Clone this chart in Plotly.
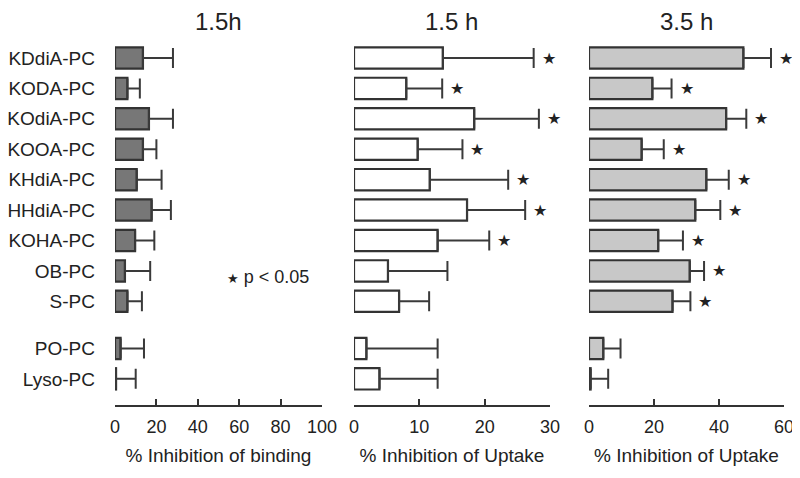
import plotly.graph_objects as go

# ---- data ----
labels = ["KDdiA-PC", "KODA-PC", "KOdiA-PC", "KOOA-PC", "KHdiA-PC", "HHdiA-PC",
          "KOHA-PC", "OB-PC", "S-PC", "PO-PC", "Lyso-PC"]
binding_mean = [13.5, 6.0, 16.4, 13.5, 10.5, 17.7, 9.7, 4.8, 6.0, 2.7, 0.5]
binding_err = [14.5, 6.0, 11.6, 6.5, 12.0, 9.3, 9.3, 12.2, 7.0, 11.3, 9.5]
uptake15_mean = [13.6, 8.0, 18.4, 9.75, 11.6, 17.3, 12.8, 5.2, 6.9, 1.9, 3.9]
uptake15_err = [13.9, 5.5, 9.9, 6.85, 12.0, 8.9, 7.9, 9.1, 4.6, 10.9, 8.9]
uptake35_mean = [47.5, 19.5, 42.2, 16.2, 36.1, 32.7, 21.3, 31.0, 25.7, 4.4, 0.5]
uptake35_err = [8.5, 5.9, 6.2, 6.8, 6.9, 7.7, 7.6, 4.4, 5.5, 5.3, 5.4]
sig15 = [True, True, True, True, True, True, True, False, False, False, False]
sig35 = [True, True, True, True, True, True, True, True, True, False, False]
titles = ["1.5h", "1.5 h", "3.5 h"]
xtitles = ["% Inhibition of binding", "% Inhibition of Uptake", "% Inhibition of Uptake"]

# ---- layout helpers ----
n_main = 9
pos = [i if i < n_main else i + 0.55 for i in range(len(labels))]

FONT = "Liberation Sans, Arial, sans-serif"
LINE = "#333333"
OFF = 8          # page body margin in the browser
W, H = 800 - OFF, 478 - OFF


def dom(a, b):
    return [(a - OFF) / W, (b - OFF) / W]


panels = [
    dict(mean=binding_mean, err=binding_err, sig=None, fill="#777777",
         xa="x", dom=dom(115, 322), rng=[0, 100], dtick=20),
    dict(mean=uptake15_mean, err=uptake15_err, sig=sig15, fill="#ffffff",
         xa="x2", dom=dom(354, 550), rng=[0, 30], dtick=10),
    dict(mean=uptake35_mean, err=uptake35_err, sig=sig35, fill="#c8c8c8",
         xa="x3", dom=dom(589, 784), rng=[0, 60], dtick=20),
]

fig = go.Figure()
annotations = []
for k, p in enumerate(panels):
    fig.add_trace(go.Bar(
        x=p["mean"], y=pos, orientation="h", width=0.7,
        xaxis=p["xa"], yaxis="y",
        marker=dict(color=p["fill"], line=dict(color=LINE, width=2.2)),
        error_x=dict(type="data", array=p["err"], arrayminus=[0] * len(p["err"]),
                     symmetric=False, color="#3a3a3a", thickness=2, width=10),
        showlegend=False, hoverinfo="skip",
    ))
    axname = "xaxis" if k == 0 else f"xaxis{k + 1}"
    fig.layout[axname] = dict(
        domain=p["dom"], range=p["rng"], dtick=p["dtick"], anchor="y",
        automargin=False,
        showline=True, linecolor=LINE, linewidth=2,
        ticks="inside", ticklen=6, tickwidth=2, tickcolor=LINE,
        ticklabelstandoff=4,
        showgrid=False, zeroline=False,
        tickfont=dict(size=18, color="#222", family=FONT),
        title=dict(text=xtitles[k], font=dict(size=19, color="#222", family=FONT),
                   standoff=13),
    )
    annotations.append(dict(
        text=titles[k], xref="paper", yref="paper",
        x=(p["dom"][0] + p["dom"][1]) / 2, y=1.052,
        xanchor="center", yanchor="middle", showarrow=False,
        font=dict(size=24, color="#222", family=FONT),
    ))
    if p["sig"] is not None:
        for i, s in enumerate(p["sig"]):
            if s:
                annotations.append(dict(
                    text="★", xref=p["xa"], yref="y",
                    x=p["mean"][i] + p["err"][i], y=pos[i],
                    xanchor="left", yanchor="middle", xshift=6, showarrow=False,
                    font=dict(size=16, color="#222", family="DejaVu Sans"),
                ))

annotations.append(dict(
    text="<span style='font-family:DejaVu Sans;font-size:13px'>★</span> p < 0.05",
    xref="x", yref="y", x=74, y=7.2, xanchor="center", yanchor="middle",
    showarrow=False, font=dict(size=18, color="#222", family=FONT),
))

fig.update_layout(
    width=W, height=H,
    margin=dict(l=0, r=0, t=40 - OFF, b=73, autoexpand=False),
    paper_bgcolor="white", plot_bgcolor="white",
    yaxis=dict(
        range=[11.41, -0.592], tickvals=pos, ticktext=labels,
        automargin=False,
        showline=False, showgrid=False, zeroline=False, ticks="",
        ticklabelstandoff=19,
        tickfont=dict(size=19, color="#222", family=FONT),
    ),
    annotations=annotations,
)

fig.write_html("out.html")
